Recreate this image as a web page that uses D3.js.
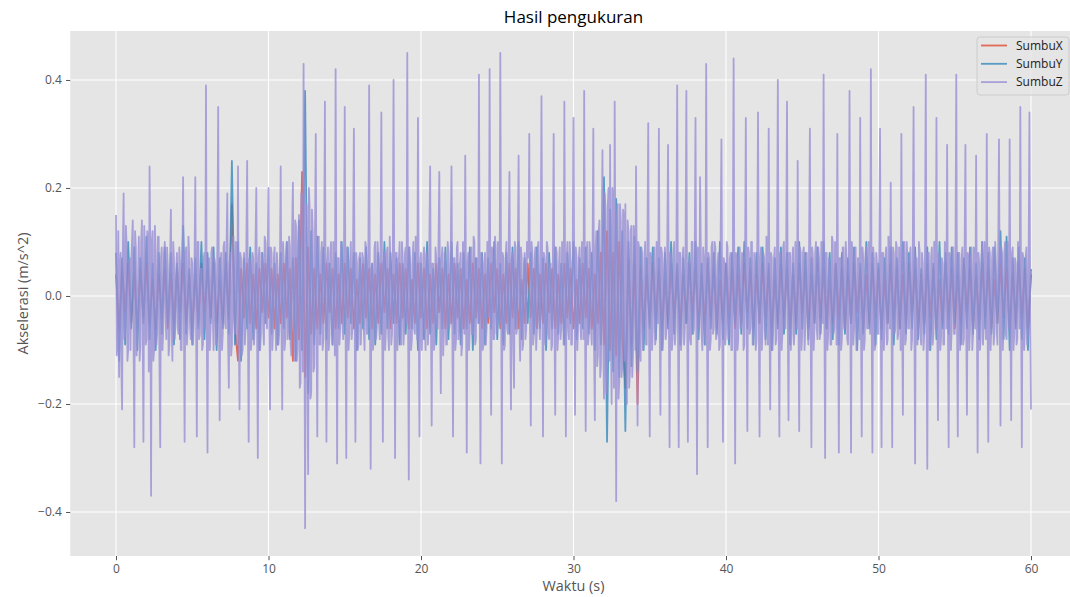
<!DOCTYPE html>
<html>
<head>
<meta charset="utf-8">
<script src="https://cdn.jsdelivr.net/npm/d3@7"></script>
<style>
  html, body { margin: 0; padding: 0; background: #ffffff; }
  svg { display: block; font-family: "Open Sans", "DejaVu Sans", sans-serif; }
</style>
</head>
<body>
<svg id="chart" width="1070" height="597"></svg>
<script>
// ---------------- data ----------------
const seriesNames = ["SumbuX", "SumbuY", "SumbuZ"];
const xTicks = [0, 10, 20, 30, 40, 50, 60];
const yTicks = [-0.4, -0.2, 0.0, 0.2, 0.4];
const xyStep = 0.2;   // seconds between samples of SumbuX / SumbuY
const zStep = 0.1;    // seconds between main samples of SumbuZ (half-step samples in sumbuZMid)

const sumbuX = [
  .04,-.06,.05,-.03,.06,  -.05,.04,-.06,.05,-.04,  .06,-.05,.03,-.06,.04,  -.04,.05,-.06,.04,-.05,
  .05,-.03,.06,-.05,.04,  -.06,.04,-.05,.06,-.03,  .05,-.04,.06,-.05,.03,  -.05,.06,-.04,.17,-.06,
  -.12,.05,-.04,.06,-.05, .04,-.06,.05,-.03,.06,   -.04,.05,-.06,.04,-.05, .06,-.04,.05,-.12,.07,
  -.08,.23,-.15,.09,-.07, .05,-.06,.04,-.05,.06,   -.03,.05,-.06,.04,-.05, .06,-.04,.05,-.06,.03,
  -.05,.06,-.04,.05,-.06, .04,-.05,.06,-.03,.05,   -.06,.04,-.05,.06,-.04, .05,-.06,.03,-.05,.06,
  -.04,.05,-.06,.04,-.05, .06,-.03,.05,-.06,.04,   -.05,.06,-.04,.05,-.06, .03,-.05,.06,-.04,.05,
  -.06,.04,-.05,.06,-.03, .05,-.06,.04,-.05,.06,   -.04,.05,-.06,.03,-.05, .06,-.04,.05,-.06,.04,
  -.05,.06,-.03,.05,-.06, .04,-.05,.06,-.04,.05,   -.06,.03,-.05,.06,-.04, .05,-.06,.04,-.05,.08,
  -.09,.12,-.10,.08,-.11, .10,-.08,-.17,.07,-.09,  .06,-.20,.05,-.06,.04,  -.05,.06,-.04,.05,-.06,
  .03,-.05,.06,-.04,.05,  -.06,.04,-.05,.06,-.03,  .05,-.06,.04,-.05,.06,  -.04,.05,-.06,.03,-.05,
  .06,-.04,.05,-.06,.04,  -.05,.06,-.03,.05,-.06,  .04,-.05,.06,-.04,.05,  -.06,.03,-.05,.06,-.04,
  .05,-.06,.04,-.05,.06,  -.03,.05,-.06,.04,-.05,  .06,-.04,.05,-.06,.03,  -.05,.06,-.04,.05,-.06,
  .04,-.05,.06,-.03,.05,  -.06,.04,-.05,.06,-.04,  .05,-.06,.03,-.05,.06,  -.04,.05,-.06,.04,-.05,
  .06,-.03,.05,-.06,.04,  -.05,.06,-.04,.05,-.06,  .03,-.05,.06,-.04,.05,  -.06,.04,-.05,.06,-.03,
  .05,-.06,.04,-.05,.06,  -.04,.05,-.06,.03,-.05,  .06,-.04,.05,-.06,.04,  -.05,.06,-.04,.05,-.06,
  .04
];

const sumbuY = [
  .08,-.12,.07,-.09,.10,  -.06,.09,-.10,.07,-.05, .11,-.08,.06,-.10,.08,  -.07,.09,-.05,.08,-.09,
  .06,-.08,.13,-.07,.05,  -.09,.07,-.06,.10,-.08, .08,-.05,.09,-.10,.07,  -.06,.08,-.07,.25,-.09,
  .10,-.12,.07,-.06,.09,  -.08,.06,-.10,.08,-.05, .09,-.07,.06,-.09,.08,  -.06,.10,-.08,.07,-.12,
  .14,-.10,.38,-.18,.12,  -.09,.11,-.07,.09,-.08, .06,-.09,.08,-.06,.10,  -.07,.09,-.05,.08,-.10,
  .07,-.06,.09,-.08,.06,  -.09,.08,-.07,.10,-.06, .08,-.05,.07,-.09,.06,  -.07,.09,-.06,.08,-.10,
  .06,-.08,.10,-.07,.05,  -.09,.07,-.06,.09,-.08, .10,-.07,.06,-.09,.08,  -.06,.09,-.10,.07,-.05,
  .08,-.09,.07,-.06,.10,  -.08,.06,-.09,.08,-.07, .09,-.06,.10,-.08,.07,  -.05,.08,-.07,.09,-.06,
  .07,-.10,.08,-.06,.09,  -.07,.06,-.09,.08,-.05, .10,-.08,.07,-.06,.09,  -.07,.08,-.10,.12,-.09,
  .22,-.27,.16,-.14,.18,  -.15,.12,-.25,.10,-.13, .11,-.14,.09,-.10,.07,  -.06,.09,-.08,.07,-.10,
  .08,-.06,.10,-.07,.06,  -.09,.07,-.05,.08,-.07, .10,-.08,.06,-.09,.07,  -.06,.08,-.07,.10,-.08,
  .06,-.09,.08,-.05,.09,  -.07,.10,-.06,.07,-.09, .08,-.05,.09,-.08,.06,  -.10,.07,-.06,.09,-.07,
  .08,-.09,.06,-.07,.10,  -.06,.08,-.08,.07,-.05, .09,-.07,.10,-.06,.08,  -.08,.06,-.09,.08,-.07,
  .07,-.05,.09,-.10,.06,  -.07,.10,-.06,.08,-.09, .06,-.08,.07,-.05,.09,  -.09,.07,-.06,.10,-.07,
  .08,-.06,.09,-.08,.05,  -.07,.09,-.10,.06,-.08, .10,-.06,.08,-.07,.09,  -.05,.08,-.09,.07,-.06,
  .09,-.07,.06,-.08,.10,  -.06,.08,-.07,.09,-.05, .12,-.08,.11,-.10,.07,  -.06,.09,-.08,.07,-.10,
  .05
];

const sumbuZ = [
  .15,-.09,-.15,.08,-.21,.19,-.07,.09,-.10,.07,
  .06,.14,-.28,.09,-.06,.11,-.09,.14,-.27,.08,
  -.08,.10,.24,-.37,.12,-.10,.08,-.07,.11,-.28,
  .09,-.06,.10,-.08,.05,-.09,.16,-.12,.07,-.05,
  .08,-.07,.06,-.10,.22,-.27,.09,-.06,.07,-.08,
  .06,-.05,.22,-.26,.10,-.07,.05,-.09,.08,.39,
  -.29,.07,-.06,.09,-.10,.06,-.05,.35,-.23,.08,
  -.07,.10,-.06,.19,-.17,.08,-.09,.11,-.07,.09,
  .24,-.21,.07,-.10,.08,-.06,.25,-.27,.06,-.08,
  .07,-.05,.20,-.30,.09,-.07,.06,-.09,.10,-.06,
  .20,-.21,.08,-.06,.09,-.10,.05,-.07,.24,-.21,
  .07,-.08,.10,-.06,.09,-.11,.21,-.12,.13,-.10,
  .15,-.16,.18,.43,-.43,.17,-.33,.16,-.18,.12,
  -.13,.30,-.26,.11,-.09,.10,-.08,.36,-.27,.09,
  -.07,.10,-.09,.08,.42,-.31,.07,-.06,.09,-.08,
  .35,-.30,.08,-.07,.10,-.06,.31,-.27,.06,-.09,
  .08,-.05,.07,-.10,.09,-.07,.39,-.32,.06,-.08,
  .10,-.06,.07,-.08,.34,-.27,.08,-.06,.09,-.10,
  .06,-.07,.40,-.30,.08,-.05,.10,-.09,.07,-.06,
  .09,.45,-.34,.06,-.08,.10,-.07,.05,.33,-.26,
  .08,-.06,.09,-.10,.07,-.05,.24,-.24,.06,-.08,
  .07,-.06,.23,-.18,.09,-.07,.06,-.09,.08,-.05,
  .24,-.26,.07,-.08,.10,-.06,.08,-.09,.06,.26,
  -.29,.08,-.06,.09,-.07,.10,-.08,.06,.41,-.31,
  .07,-.09,.08,-.06,.10,.42,-.22,.07,-.08,.09,
  -.06,.08,.45,-.31,.07,-.09,.10,-.07,.23,-.21,
  .08,-.17,.09,-.06,.26,-.12,.07,-.09,.08,-.06,
  .07,.30,-.24,.08,-.07,.09,-.06,.10,-.08,.37,
  -.26,.07,-.06,.09,-.08,.06,-.09,.30,-.22,.08,
  -.07,.09,-.06,.08,.36,-.26,.10,-.08,.06,-.09,
  .33,-.22,.07,-.06,.09,-.08,.06,.38,-.25,.10,
  -.07,.08,-.09,.31,-.23,.12,-.11,.14,-.13,.27,
  -.19,.16,-.15,.20,.28,-.20,.18,.36,-.38,.17,
  -.16,.14,-.13,.15,.17,-.20,.12,-.14,.13,-.11,
  .10,.24,-.24,.09,-.12,.08,-.07,.10,-.09,.32,
  -.26,.07,-.06,.09,-.08,.06,.31,-.22,.08,-.07,
  .09,-.06,.28,-.28,.07,-.08,.10,-.06,.39,-.28,
  .08,-.07,.09,-.06,.38,-.27,.07,-.09,.10,-.06,
  .33,-.33,.08,.22,-.07,.09,-.06,.43,-.28,.07,
  -.08,.10,-.06,.09,-.07,.08,-.09,.29,-.27,.06,
  -.07,.09,-.06,.08,-.10,.44,-.31,.07,-.08,.09,
  -.06,.07,-.09,.33,-.25,.08,-.06,.10,-.07,.06,
  -.08,.34,-.26,.09,-.06,.07,-.09,.08,.31,-.21,
  .07,-.06,.09,-.08,.40,-.26,.06,-.07,.10,-.06,
  .36,-.23,.08,-.07,.09,-.06,.07,.25,-.25,.08,
  -.07,.09,-.06,.08,-.09,.31,-.28,.07,-.06,.10,
  -.08,.07,-.06,.09,.41,-.30,.08,-.07,.06,-.09,
  .10,-.06,.08,.30,-.29,.07,-.08,.09,-.06,.07,
  -.09,.38,-.29,.08,-.06,.09,-.07,.06,.33,-.26,
  .07,-.08,.09,-.06,.08,.42,-.29,.07,-.09,.06,
  -.07,.31,-.28,.08,-.06,.09,-.08,.07,.21,-.28,
  .08,-.06,.09,-.07,.06,.30,-.22,.10,-.08,.07,
  -.06,.09,-.08,.35,-.31,.07,-.06,.08,-.09,.06,
  -.07,.41,-.32,.08,-.06,.09,-.07,.10,.33,-.23,
  .07,-.08,.06,-.09,.08,.28,-.28,.07,-.06,.09,
  -.07,.41,-.26,.08,-.06,.09,-.08,.28,-.22,.07,
  -.06,.09,-.07,.08,.26,-.29,.06,-.08,.10,-.06,
  .07,.30,-.27,.08,-.06,.09,-.07,.06,-.09,.29,
  -.24,.08,-.06,.10,-.08,.07,.29,-.23,.09,-.07,
  .06,-.08,.08,.35,-.28,.07,-.06,.09,-.07,.34,
  -.21
];

// SumbuZ samples half-way between the main samples above
const sumbuZMid = [
  -.11,.12,.05,-.13,.09,-.08,.13,-.12,.06,-.10,
  .10,-.07,.12,-.11,.04,-.12,.10,-.06,.13,-.09,
  .12,-.14,.08,.10,-.12,.13,-.09,.11,-.13,.07,
  -.10,.08,-.04,.09,-.11,.07,-.06,.10,-.08,.05,
  -.06,.09,-.10,.05,-.03,.08,-.09,.11,-.05,.07,
  -.09,.06,-.04,.10,-.08,.05,-.10,.07,-.06,-.04,
  .05,-.10,.08,-.04,.07,-.09,.10,-.03,.06,-.10,
  .09,-.05,.10,-.08,.06,-.11,.07,-.04,.10,-.09,
  -.05,.08,-.11,.06,-.09,.10,-.04,.07,-.10,.08,
  -.09,.10,-.05,.07,-.10,.08,-.06,.11,-.04,.09,
  -.06,.09,-.10,.07,-.05,.08,-.09,.06,-.05,.10,
  -.10,.06,-.08,.11,-.09,.12,-.05,.14,-.12,.10,
  -.17,.19,-.14,.02,.10,-.15,.20,-.19,.16,-.14,
  .12,-.05,.10,-.09,.08,-.10,.11,-.04,.06,-.10,
  .08,-.06,.10,-.11,.03,.07,-.09,.10,-.05,.08,
  -.04,.09,-.10,.06,-.08,.11,-.03,.08,-.10,.07,
  -.09,.08,-.06,.10,-.07,.09,-.02,.05,-.10,.09,
  -.08,.10,-.05,.09,-.03,.06,-.10,.08,-.07,.11,
  -.09,.06,.02,.08,-.10,.07,-.06,.10,-.09,.08,
  -.05,-.02,.09,-.10,.07,-.06,.11,-.08,-.03,.06,
  -.10,.07,-.05,.08,-.09,.11,-.04,.06,-.10,.09,
  -.06,.10,-.04,.07,-.11,.08,-.09,.10,-.06,.08,
  -.05,.07,-.10,.09,-.08,.06,-.11,.10,-.07,.02,
  .06,-.10,.08,-.07,.11,-.09,.07,-.05,-.03,.08,
  -.10,.06,-.09,.10,-.04,-.06,.09,-.08,.11,-.07,
  .10,-.05,.03,.08,-.10,.07,-.06,.09,-.04,.07,
  -.09,.10,-.07,.08,-.05,.09,-.10,.06,-.08,.10,
  .08,-.06,.10,-.09,.07,-.10,.09,-.05,.08,.01,
  .08,-.09,.10,-.07,.06,-.10,.08,-.04,.09,-.10,
  .06,-.08,.10,-.09,.03,.07,-.06,.10,-.09,.08,
  .02,.09,-.10,.07,-.05,.10,-.08,-.02,.07,-.09,
  .10,-.06,.08,-.10,.09,-.13,.12,-.15,.11,-.08,
  .19,-.18,.17,-.12,-.05,.20,-.17,.02,.15,-.19,
  .17,-.15,.16,-.12,-.04,.14,-.17,.12,-.15,.13,
  -.10,.05,.10,-.11,.09,-.10,.07,-.09,.11,-.05,
  .08,-.10,.07,-.09,.10,-.05,-.03,.09,-.10,.06,
  -.08,.10,-.02,.08,-.10,.07,-.09,.10,-.05,.08,
  -.10,.07,-.09,.10,-.02,.06,-.08,.10,-.07,.09,
  -.03,.09,-.06,.08,-.10,.07,-.09,-.04,.08,-.10,
  .09,-.07,.10,-.08,.06,-.10,.11,-.03,.07,-.09,
  .10,-.08,.07,-.10,.09,-.02,.08,-.10,.07,-.06,
  .08,-.10,.06,-.02,.09,-.07,.10,-.09,.08,-.10,
  .09,-.03,.07,-.10,.08,-.06,.11,-.09,-.04,.08,
  -.10,.07,-.09,.10,-.05,.08,-.10,.09,-.06,.10,
  -.04,.08,-.10,.07,-.09,.10,-.06,-.03,.09,-.10,
  .08,-.10,.07,-.05,.10,-.04,.09,-.10,.08,-.06,
  .09,-.08,.10,-.05,-.02,.08,-.10,.07,-.09,.11,
  -.07,.10,-.09,-.03,.07,-.10,.09,-.06,.10,-.08,
  .06,-.02,.10,-.09,.08,-.10,.07,-.08,-.04,.09,
  -.10,.08,-.06,.10,-.07,-.03,.09,-.10,.08,-.07,
  .10,-.04,.08,-.10,.07,-.09,.11,-.06,-.02,.09,
  -.07,.10,-.08,.09,-.10,-.04,.08,-.09,.10,-.06,
  .07,-.10,.09,-.02,.07,-.09,.10,-.07,.08,-.10,
  .09,-.05,.08,-.10,.07,-.09,.10,-.06,-.04,.08,
  -.10,.07,-.09,.10,-.06,-.03,.08,-.10,.09,-.07,
  .10,-.05,.08,-.10,.07,-.09,.10,-.04,.08,-.10,
  .07,-.10,.09,-.06,-.02,.08,-.10,.07,-.09,.10,
  -.08,-.03,.09,-.10,.07,-.09,.10,-.06,.08,-.02,
  .09,-.10,.08,-.07,.10,-.06,-.04,.08,-.10,.07,
  -.09,.10,-.06,-.02,.08,-.10,.07,-.09,.10,-.03
];

const colors = ["#E24A33", "#348ABD", "#988ED5"];
const lineAlpha = 0.8;

// ---------------- layout ----------------
const W = 1070, H = 597;
const mLeft = 70.25, mRight = 1076.75, mTop = 31, mBottom = 556;
const tickLen = 4.2, tickPad = 4.2;

const svg = d3.select("#chart");
svg.append("rect").attr("width", W).attr("height", H).attr("fill", "#ffffff");

const x = d3.scaleLinear().domain([-3, 63]).range([mLeft, mRight]);
const y = d3.scaleLinear().domain([-0.4815, 0.4907]).range([mBottom, mTop]);

svg.append("rect")
  .attr("x", mLeft).attr("y", mTop)
  .attr("width", mRight - mLeft).attr("height", mBottom - mTop)
  .attr("fill", "#E5E5E5");

// grid
const grid = svg.append("g");
grid.selectAll("line.vx").data(xTicks).enter().append("line")
  .attr("x1", d => x(d)).attr("x2", d => x(d))
  .attr("y1", mTop).attr("y2", mBottom)
  .attr("stroke", "#ffffff").attr("stroke-width", 1.1);
grid.selectAll("line.hy").data(yTicks).enter().append("line")
  .attr("y1", d => y(d)).attr("y2", d => y(d))
  .attr("x1", mLeft).attr("x2", mRight)
  .attr("stroke", "#ffffff").attr("stroke-width", 1.1);

// clip
svg.append("clipPath").attr("id", "plotclip")
  .append("rect").attr("x", mLeft).attr("y", mTop)
  .attr("width", mRight - mLeft).attr("height", mBottom - mTop);

const zPoints = [];
sumbuZ.forEach((v, i) => {
  zPoints.push([i * zStep, v]);
  if (i < sumbuZMid.length) zPoints.push([(i + 0.5) * zStep, sumbuZMid[i]]);
});

const data = [
  sumbuX.map((v, i) => [i * xyStep, v]),
  sumbuY.map((v, i) => [i * xyStep, v]),
  zPoints
];

const line = d3.line().x(d => x(d[0])).y(d => y(d[1]));
const plot = svg.append("g").attr("clip-path", "url(#plotclip)");
data.forEach((s, k) => {
  plot.append("path")
    .datum(s)
    .attr("d", line)
    .attr("fill", "none")
    .attr("stroke", colors[k])
    .attr("stroke-opacity", lineAlpha)
    .attr("stroke-width", 1.8)
    .attr("stroke-linejoin", "round");
});

// axes
const xAxis = d3.axisBottom(x).tickValues(xTicks).tickFormat(d3.format("d"))
  .tickSizeInner(tickLen).tickSizeOuter(0).tickPadding(tickPad);
const gx = svg.append("g").attr("transform", `translate(0,${mBottom})`).call(xAxis);
const yAxis = d3.axisLeft(y).tickValues(yTicks).tickFormat(d3.format(".1f"))
  .tickSizeInner(tickLen).tickSizeOuter(0).tickPadding(tickPad);
const gy = svg.append("g").attr("transform", `translate(${mLeft},0)`).call(yAxis);
[gx, gy].forEach(g => {
  g.select(".domain").remove();
  g.selectAll(".tick line").attr("stroke", "#555555").attr("stroke-width", 1);
  g.selectAll(".tick text").attr("fill", "#555555")
    .style("font-size", "12px").style("font-family", "Open Sans, DejaVu Sans, sans-serif");
});

// labels
svg.append("text").attr("x", (mLeft + mRight) / 2).attr("y", 23)
  .attr("text-anchor", "middle").attr("fill", "#000000")
  .style("font-size", "17px").text("Hasil pengukuran");
svg.append("text").attr("x", (mLeft + mRight) / 2).attr("y", 591)
  .attr("text-anchor", "middle").attr("fill", "#555555")
  .style("font-size", "14.4px").text("Waktu (s)");
svg.append("text")
  .attr("transform", `translate(28,${(mTop + mBottom) / 2}) rotate(-90)`)
  .attr("text-anchor", "middle").attr("fill", "#555555")
  .style("font-size", "14.4px").text("Akselerasi (m/s^2)");

// legend
const lg = svg.append("g");
lg.append("rect").attr("x", 977).attr("y", 37).attr("width", 92).attr("height", 58)
  .attr("rx", 3).attr("fill", "#E5E5E5").attr("fill-opacity", 0.8)
  .attr("stroke", "#CCCCCC").attr("stroke-width", 1);
seriesNames.forEach((name, i) => {
  const yy = 45.5 + i * 18.3;
  lg.append("line").attr("x1", 981).attr("x2", 1007).attr("y1", yy).attr("y2", yy)
    .attr("stroke", colors[i]).attr("stroke-opacity", lineAlpha).attr("stroke-width", 1.8);
  lg.append("text").attr("x", 1016).attr("y", yy + 4.3)
    .attr("fill", "#222222").style("font-size", "12px").text(name);
});
</script>
</body>
</html>
